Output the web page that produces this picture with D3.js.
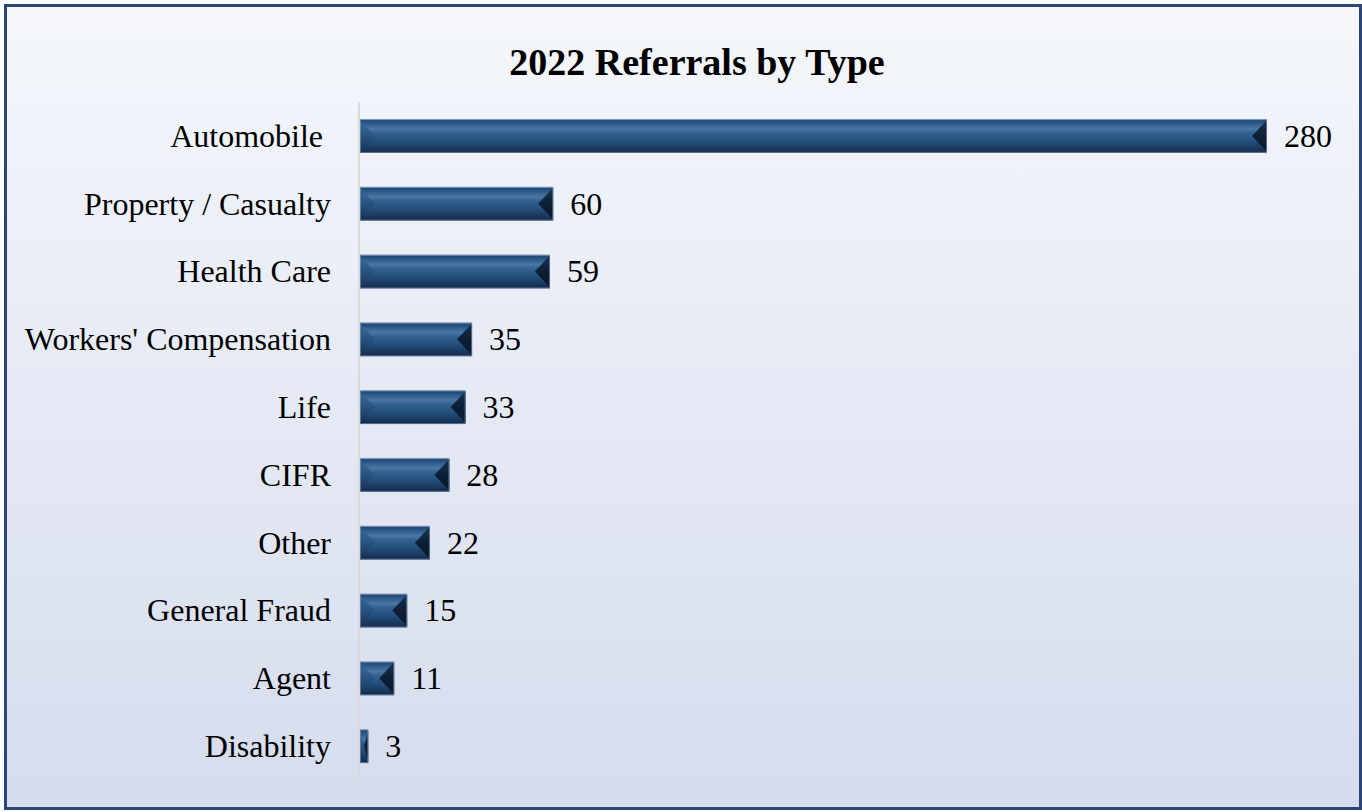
<!DOCTYPE html>
<html>
<head>
<meta charset="utf-8">
<script src="https://cdn.jsdelivr.net/npm/d3@7"></script>
<style>
html,body{margin:0;padding:0;background:#fff;}
svg{display:block;}
text{font-family:"Liberation Serif","Times New Roman",serif;}
</style>
</head>
<body>
<svg id="chart" width="1362" height="812"></svg>
<script>
const categories = ["Automobile", "Property / Casualty", "Health Care", "Workers' Compensation", "Life", "CIFR", "Other", "General Fraud", "Agent", "Disability"];
const values = [280, 60, 59, 35, 33, 28, 22, 15, 11, 3];
const title = "2022 Referrals by Type";

const svg = d3.select("#chart");
const defs = svg.append("defs");

const bg = defs.append("linearGradient").attr("id","bg").attr("x1",0).attr("y1",0).attr("x2",0).attr("y2",1);
bg.append("stop").attr("offset","0%").attr("stop-color","#f5f7fc");
bg.append("stop").attr("offset","100%").attr("stop-color","#d5dcec");

const body = defs.append("linearGradient").attr("id","body").attr("x1",0).attr("y1",0).attr("x2",0).attr("y2",1);
[["0%","#8ea2bd"],["5%","#1f4a78"],["30%","#4877a8"],["42%","#32618e"],["65%","#23507c"],["85%","#1a3a60"],["100%","#122848"]]
  .forEach(([o,c])=>body.append("stop").attr("offset",o).attr("stop-color",c));

const leftG = defs.append("linearGradient").attr("id","leftcap").attr("x1",0).attr("y1",0).attr("x2",0).attr("y2",1);
[["0%","#3a6897"],["50%","#27527f"],["100%","#183353"]].forEach(([o,c])=>leftG.append("stop").attr("offset",o).attr("stop-color",c));
const rightG = defs.append("linearGradient").attr("id","rightcap").attr("x1",0).attr("y1",0).attr("x2",0).attr("y2",1);
[["0%","#17324f"],["50%","#0d1f36"],["100%","#0a1829"]].forEach(([o,c])=>rightG.append("stop").attr("offset",o).attr("stop-color",c));

// frame
svg.append("rect").attr("x",5.5).attr("y",5.5).attr("width",1355).attr("height",803)
  .attr("fill","url(#bg)").attr("stroke","#2d4675").attr("stroke-width",3);

// title
svg.append("text").attr("x",697).attr("y",75).attr("text-anchor","middle")
  .attr("font-size",38).attr("font-weight","bold").attr("fill","#000").text(title);

const x = d3.scaleLinear().domain([0, 280]).range([358.5, 1267]);
const y = d3.scaleBand().domain(categories).range([102, 780]).paddingInner(0.5).paddingOuter(0.25);

// axis line
const yAxis = d3.axisLeft(y).tickSize(0).tickFormat("");
const ag = svg.append("g").attr("transform",`translate(${x(0)},0)`).call(yAxis);
ag.select(".domain").attr("stroke","#d9d9d9").attr("stroke-width",2);

// bars
const bars = svg.append("g").selectAll("g").data(categories).join("g");
bars.each(function(c,i){
  const g = d3.select(this);
  const x0 = x(0) + 1.5, x1 = x(values[i]);
  const y0 = y(c), h = y.bandwidth(), y1 = y0 + h, ym = y0 + h/2;
  const w = Math.max(x1 - x0, 2);
  const d = Math.min(15, w/2);
  g.append("rect").attr("x",x0).attr("y",y0).attr("width",w).attr("height",h).attr("fill","url(#body)");
  g.append("path").attr("d",`M${x0},${y0+1.5}L${x0+d},${ym}L${x0},${y1-1.5}Z`).attr("fill","url(#leftcap)").attr("opacity",0.9);
  g.append("path").attr("d",`M${x0+w},${y0+1}L${x0+w-d},${ym}L${x0+w},${y1-1}Z`).attr("fill","url(#rightcap)");
  g.append("rect").attr("x",x0+0.5).attr("y",y0+0.5).attr("width",w-1).attr("height",h-1)
    .attr("fill","none").attr("stroke","#8fa6c4").attr("stroke-opacity",0.55).attr("stroke-width",1);
});

// category labels
svg.append("g").selectAll("text").data(categories).join("text")
  .attr("x",(d)=> d==="Automobile" ? 323 : 331)
  .attr("y",d=>y(d)+y.bandwidth()/2).attr("dy","0.34em")
  .attr("text-anchor","end").attr("font-size",32).attr("fill","#000")
  .text(d=>d);

// value labels
svg.append("g").selectAll("text").data(values).join("text")
  .attr("x",d=>x(d)+17).attr("y",(d,i)=>y(categories[i])+y.bandwidth()/2).attr("dy","0.34em")
  .attr("font-size",32).attr("fill","#000").text(d=>d);
</script>
</body>
</html>
